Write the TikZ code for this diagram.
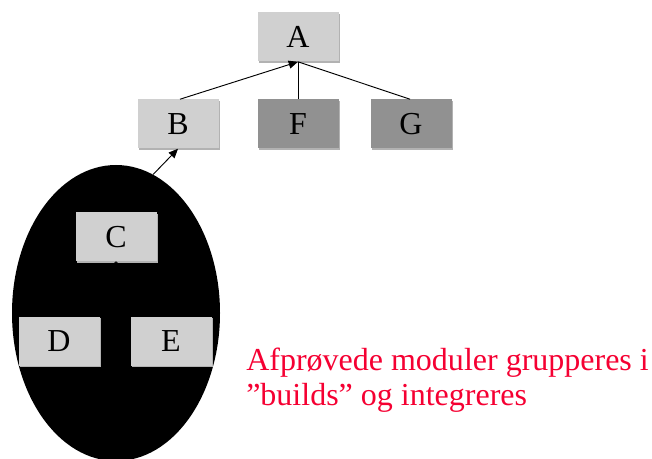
\documentclass[tikz,border=0pt]{standalone}
\usepackage{fontspec}
\setmainfont{Liberation Serif}
\usetikzlibrary{arrows.meta,shadows,shapes.geometric}
\definecolor{boxlight}{RGB}{208,208,208}
\definecolor{boxdark}{RGB}{145,145,145}
\definecolor{textred}{RGB}{245,0,50}
\tikzset{
  modbox/.style={rectangle, fill=boxlight, minimum width=81*0.75pt, minimum height=49*0.75pt,
    inner sep=0pt, font=\fontsize{24}{28}\selectfont,
    general shadow={fill=gray!60, shadow xshift=1.2pt, shadow yshift=-1.2pt}},
  darkbox/.style={modbox, fill=boxdark},
  link/.style={draw=black, line width=0.7pt},
  arr/.style={link, -{Triangle[length=7pt,width=6pt]}},
  redtext/.style={anchor=base west, text=textred, font=\fontsize{24}{28}\selectfont, inner sep=0pt}
}
\begin{document}
\begin{tikzpicture}[x=0.75pt,y=-0.75pt]
\useasboundingbox (0,0) rectangle (652,459);
\node[ellipse, fill=black, minimum width=208*0.75pt, minimum height=296*0.75pt, inner sep=0pt] (grp) at (116,313) {};
\node[modbox] (A) at (298,37) {A};
\node[modbox] (B) at (178,124) {B};
\node[darkbox] (F) at (298,124) {F};
\node[darkbox] (G) at (411,124) {G};
\node[modbox] (C) at (116,237) {C};
\node[modbox] (D) at (59,341) {D};
\node[modbox] (E) at (171,341) {E};
\draw[arr] ([xshift=2*0.75pt]B.north) -- (A.south);
\draw[link] (F.north) -- (A.south);
\draw[link] ([xshift=-1*0.75pt]G.north) -- (A.south);
\draw[arr] (grp.75) -- (B.south);
\draw[link] (D.north) -- (C.south);
\draw[link] (E.north) -- (C.south);
\node[redtext] (lbl1) at (246,370) {Afprøvede moduler grupperes i};
\node[redtext] (lbl2) at (246,405) {”builds” og integreres};
\end{tikzpicture}
\end{document}
